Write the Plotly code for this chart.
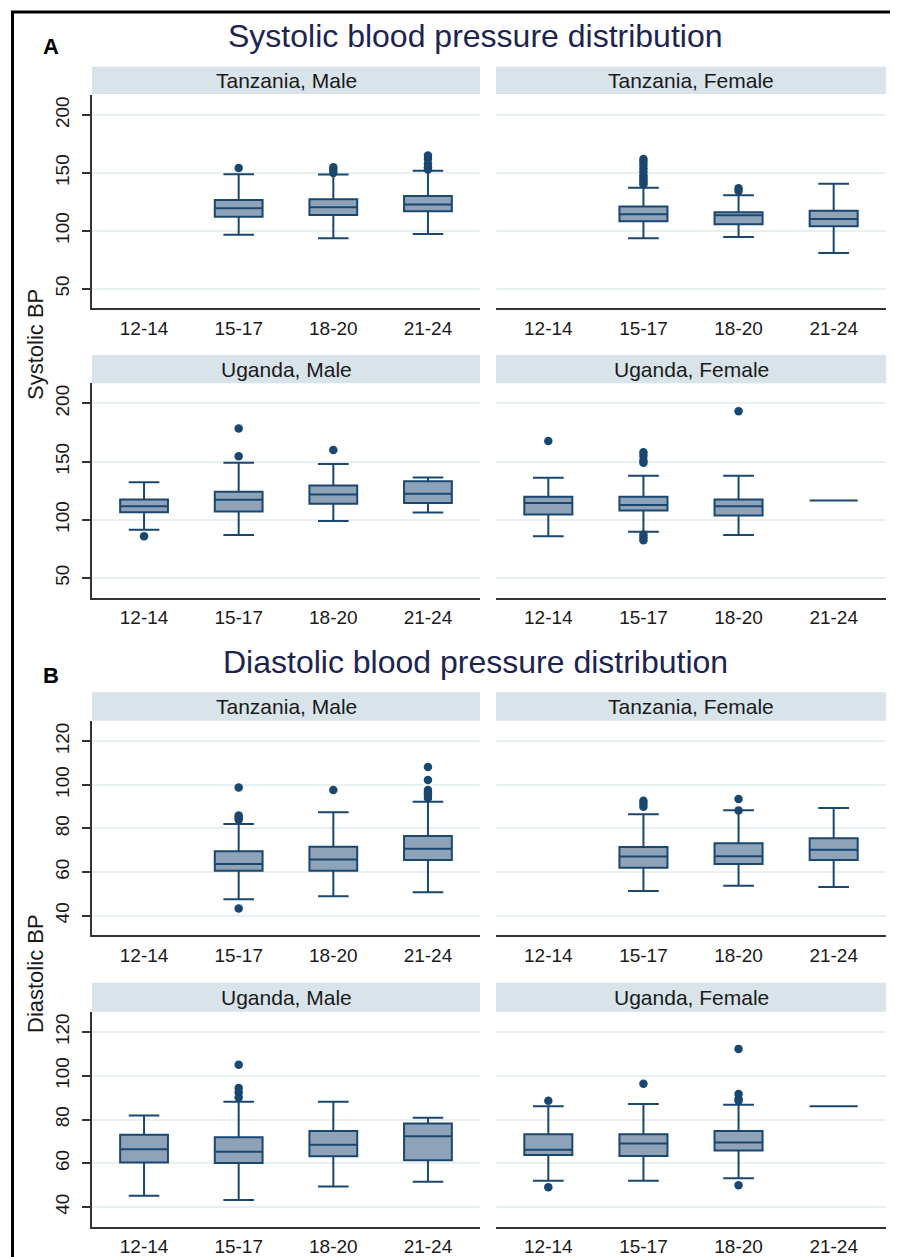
import plotly.graph_objects as go

# page body has an 8px margin: the figure is drawn 8px lower/right
OFF = 8
W, H = 898 - OFF, 1257 - OFF

categories = ["12-14", "15-17", "18-20", "21-24"]

# ---------------- Systolic ----------------
sys_tz_m_lo = [None, 96.6, 93.7, 97.4]
sys_tz_m_q1 = [None, 112.3, 113.8, 117.0]
sys_tz_m_med = [None, 119.5, 120.4, 122.7]
sys_tz_m_q3 = [None, 126.7, 127.3, 130.2]
sys_tz_m_hi = [None, 148.8, 148.6, 152.0]
sys_tz_m_out_x = ["15-17", "18-20", "18-20", "18-20", "21-24", "21-24", "21-24", "21-24", "21-24"]
sys_tz_m_out_y = [154.3, 150.0, 152.5, 155.0, 153.0, 155.0, 158.0, 162.0, 165.0]

sys_tz_f_lo = [None, 93.7, 94.8, 81.0]
sys_tz_f_q1 = [None, 108.4, 105.8, 104.0]
sys_tz_f_med = [None, 114.4, 113.5, 110.3]
sys_tz_f_q3 = [None, 121.0, 116.1, 117.5]
sys_tz_f_hi = [None, 137.3, 130.8, 140.8]
sys_tz_f_out_x = ["15-17"] * 10 + ["18-20", "18-20"]
sys_tz_f_out_y = [140.0, 142.0, 144.0, 146.0, 148.0, 151.0, 154.0, 157.0, 160.0, 162.0, 134.5, 136.8]

sys_ug_m_lo = [91.6, 87.0, 99.1, 106.3]
sys_ug_m_q1 = [106.6, 107.2, 113.8, 114.6]
sys_ug_m_med = [111.7, 117.2, 121.8, 122.4]
sys_ug_m_q3 = [117.5, 124.1, 129.6, 133.3]
sys_ug_m_hi = [132.4, 149.1, 147.9, 136.5]
sys_ug_m_out_x = ["12-14", "15-17", "15-17", "18-20"]
sys_ug_m_out_y = [85.9, 154.6, 178.4, 160.0]

sys_ug_f_lo = [85.9, 89.9, 87.0, 116.6]
sys_ug_f_q1 = [104.6, 108.0, 103.7, 116.6]
sys_ug_f_med = [114.6, 112.9, 111.7, 116.6]
sys_ug_f_q3 = [119.8, 119.8, 117.5, 116.6]
sys_ug_f_hi = [136.2, 137.9, 137.9, 116.6]
sys_ug_f_out_x = ["12-14", "15-17", "15-17", "15-17", "15-17", "15-17", "15-17", "15-17", "18-20"]
sys_ug_f_out_y = [167.8, 149.0, 151.0, 155.0, 158.0, 87.5, 85.0, 82.5, 193.4]

# ---------------- Diastolic ----------------
dia_tz_m_lo = [None, 47.5, 48.9, 50.8]
dia_tz_m_q1 = [None, 60.6, 60.6, 65.5]
dia_tz_m_med = [None, 63.7, 65.8, 70.7]
dia_tz_m_q3 = [None, 69.6, 71.6, 76.5]
dia_tz_m_hi = [None, 82.0, 87.4, 92.3]
dia_tz_m_out_x = ["15-17"] * 5 + ["18-20"] + ["21-24"] * 6
dia_tz_m_out_y = [98.8, 86.0, 85.0, 84.0, 43.3, 97.6, 108.2, 102.2, 97.6, 96.5, 95.5, 94.0]

dia_tz_f_lo = [None, 51.3, 53.7, 53.1]
dia_tz_f_q1 = [None, 62.0, 63.7, 65.5]
dia_tz_f_med = [None, 67.2, 67.3, 70.2]
dia_tz_f_q3 = [None, 71.5, 73.2, 75.5]
dia_tz_f_hi = [None, 86.5, 88.4, 89.4]
dia_tz_f_out_x = ["15-17", "15-17", "15-17", "18-20", "18-20"]
dia_tz_f_out_y = [92.7, 91.5, 90.0, 93.5, 88.3]

dia_ug_m_lo = [45.1, 43.2, 49.4, 51.6]
dia_ug_m_q1 = [60.3, 60.1, 63.2, 61.4]
dia_ug_m_med = [66.4, 65.3, 68.5, 72.4]
dia_ug_m_q3 = [73.0, 71.9, 74.8, 78.2]
dia_ug_m_hi = [81.8, 88.1, 88.1, 80.8]
dia_ug_m_out_x = ["15-17", "15-17", "15-17", "15-17"]
dia_ug_m_out_y = [105.0, 94.4, 92.4, 90.1]

dia_ug_f_lo = [52.0, 52.0, 53.1, 86.1]
dia_ug_f_q1 = [63.8, 63.3, 65.8, 86.1]
dia_ug_f_med = [66.2, 69.0, 69.5, 86.1]
dia_ug_f_q3 = [73.3, 73.3, 74.7, 86.1]
dia_ug_f_hi = [86.1, 87.1, 86.7, 86.1]
dia_ug_f_out_x = ["12-14", "12-14", "15-17", "18-20", "18-20", "18-20", "18-20", "18-20"]
dia_ug_f_out_y = [88.6, 49.0, 96.4, 112.3, 91.7, 89.5, 88.6, 50.0]

panel_titles = ["Tanzania, Male", "Tanzania, Female", "Uganda, Male", "Uganda, Female"]
section_titles = ["Systolic blood pressure distribution", "Diastolic blood pressure distribution"]
section_letters = ["A", "B"]
y_titles = ["Systolic BP", "Diastolic BP"]
sys_ticks = [50, 100, 150, 200]
dia_ticks = [40, 60, 80, 100, 120]

# ---------------- styling / geometry (page pixels) ----------------
FONT = "Liberation Sans, Arial, sans-serif"
NAVY = "#1a476f"
FILL = "#8ea3b8"
STRIP = "#d8e3ea"
GRID = "#e9f0f2"
TXT = "#1a1a1a"

col_px = [(92, 480), (496, 886)]
row_px = [(95, 308.3), (383.3, 597.7), (721, 935.3), (1011.7, 1226.7)]
strip_px = [(66.7, 94), (355, 383.3), (692.3, 720.7), (982.7, 1011.7)]
yranges = [[33.2, 217.3], [31.0, 129.3]]

def px(x):
    return (x - OFF) / W

def py(y):
    return 1 - (y - OFF) / H

panels = [
    (0, 0, 0, sys_tz_m_lo, sys_tz_m_q1, sys_tz_m_med, sys_tz_m_q3, sys_tz_m_hi, sys_tz_m_out_x, sys_tz_m_out_y),
    (0, 0, 1, sys_tz_f_lo, sys_tz_f_q1, sys_tz_f_med, sys_tz_f_q3, sys_tz_f_hi, sys_tz_f_out_x, sys_tz_f_out_y),
    (0, 1, 0, sys_ug_m_lo, sys_ug_m_q1, sys_ug_m_med, sys_ug_m_q3, sys_ug_m_hi, sys_ug_m_out_x, sys_ug_m_out_y),
    (0, 1, 1, sys_ug_f_lo, sys_ug_f_q1, sys_ug_f_med, sys_ug_f_q3, sys_ug_f_hi, sys_ug_f_out_x, sys_ug_f_out_y),
    (1, 0, 0, dia_tz_m_lo, dia_tz_m_q1, dia_tz_m_med, dia_tz_m_q3, dia_tz_m_hi, dia_tz_m_out_x, dia_tz_m_out_y),
    (1, 0, 1, dia_tz_f_lo, dia_tz_f_q1, dia_tz_f_med, dia_tz_f_q3, dia_tz_f_hi, dia_tz_f_out_x, dia_tz_f_out_y),
    (1, 1, 0, dia_ug_m_lo, dia_ug_m_q1, dia_ug_m_med, dia_ug_m_q3, dia_ug_m_hi, dia_ug_m_out_x, dia_ug_m_out_y),
    (1, 1, 1, dia_ug_f_lo, dia_ug_f_q1, dia_ug_f_med, dia_ug_f_q3, dia_ug_f_hi, dia_ug_f_out_x, dia_ug_f_out_y),
]

fig = go.Figure()
layout = {}
shapes = []
annotations = []

for i, (sec, r, c, lo, q1, med, q3, hi, ox, oy) in enumerate(panels):
    n = i + 1
    xa = "x" if n == 1 else f"x{n}"
    ya = "y" if n == 1 else f"y{n}"
    rowidx = sec * 2 + r
    x0, x1 = col_px[c]
    yt, yb = row_px[rowidx]
    idx = [k for k in range(len(categories)) if med[k] is not None]
    fig.add_trace(go.Box(
        x=idx,
        lowerfence=[lo[k] for k in idx],
        q1=[q1[k] for k in idx],
        median=[med[k] for k in idx],
        q3=[q3[k] for k in idx],
        upperfence=[hi[k] for k in idx],
        boxpoints=False,
        width=0.505,
        whiskerwidth=0.64,
        fillcolor=FILL,
        line=dict(color=NAVY, width=2),
        xaxis=xa, yaxis=ya, showlegend=False, hoverinfo="skip",
    ))
    fig.add_trace(go.Scatter(
        x=[categories.index(v) for v in ox], y=oy, mode="markers",
        marker=dict(color=NAVY, size=8.5, line=dict(width=0)),
        xaxis=xa, yaxis=ya, showlegend=False, hoverinfo="skip",
    ))
    ticks = sys_ticks if sec == 0 else dia_ticks
    xkey = "xaxis" if n == 1 else f"xaxis{n}"
    ykey = "yaxis" if n == 1 else f"yaxis{n}"
    layout[xkey] = dict(
        domain=[px(x0), px(x1)], anchor=ya, range=[-0.55, 3.55],
        tickmode="array", tickvals=list(range(len(categories))), ticktext=categories,
        showline=True, linecolor="#333333", linewidth=1.5, ticks="outside", ticklen=0,
        ticklabelstandoff=2,
        showgrid=False, zeroline=False, fixedrange=True,
        tickfont=dict(family=FONT, size=19, color=TXT),
    )
    layout[ykey] = dict(
        domain=[py(yb), py(yt)], anchor=xa, range=yranges[sec],
        tickmode="array", tickvals=ticks,
        showgrid=True, gridcolor=GRID, gridwidth=2, zeroline=False, fixedrange=True,
        showline=(c == 0), linecolor="#333333", linewidth=1.5,
        ticks="outside" if c == 0 else "", ticklen=8, tickcolor="#333333", tickwidth=1.5,
        showticklabels=(c == 0), tickangle=-90, ticklabelstandoff=6,
        tickfont=dict(family=FONT, size=19, color=TXT),
    )
    st, sb = strip_px[rowidx]
    shapes.append(dict(type="rect", xref="paper", yref="paper",
                       x0=px(x0), x1=px(x1), y0=py(sb), y1=py(st),
                       fillcolor=STRIP, line=dict(width=0), layer="below"))
    annotations.append(dict(xref="paper", yref="paper", x=px((x0 + x1) / 2), y=py((st + sb) / 2),
                            text=panel_titles[r * 2 + c], showarrow=False,
                            xanchor="center", yanchor="middle",
                            font=dict(family=FONT, size=21, color=TXT)))

title_y = [36, 662]
letter_y = [46, 676]
ytitle_y = [345, 974]
for s in range(2):
    annotations.append(dict(xref="paper", yref="paper", x=px(475), y=py(title_y[s]),
                            text=section_titles[s], showarrow=False, xanchor="center", yanchor="middle",
                            font=dict(family=FONT, size=32, color="#1c2452")))
    annotations.append(dict(xref="paper", yref="paper", x=px(51), y=py(letter_y[s]),
                            text=f"<b>{section_letters[s]}</b>", showarrow=False, xanchor="center", yanchor="middle",
                            font=dict(family=FONT, size=22, color="#000000")))
    annotations.append(dict(xref="paper", yref="paper", x=px(35), y=py(ytitle_y[s]),
                            text=y_titles[s], showarrow=False, textangle=-90, xanchor="center", yanchor="middle",
                            font=dict(family=FONT, size=22, color=TXT)))

# outer black frame (bottom edge runs past the picture)
shapes.append(dict(type="rect", xref="paper", yref="paper",
                   x0=px(12.5), x1=px(894.5), y0=-0.02, y1=py(12),
                   line=dict(color="#000000", width=3), fillcolor="rgba(0,0,0,0)"))

fig.update_layout(
    width=W, height=H, margin=dict(l=0, r=0, t=0, b=0),
    paper_bgcolor="white", plot_bgcolor="white",
    shapes=shapes, annotations=annotations, showlegend=False,
    **layout,
)

fig.write_html("out.html")
